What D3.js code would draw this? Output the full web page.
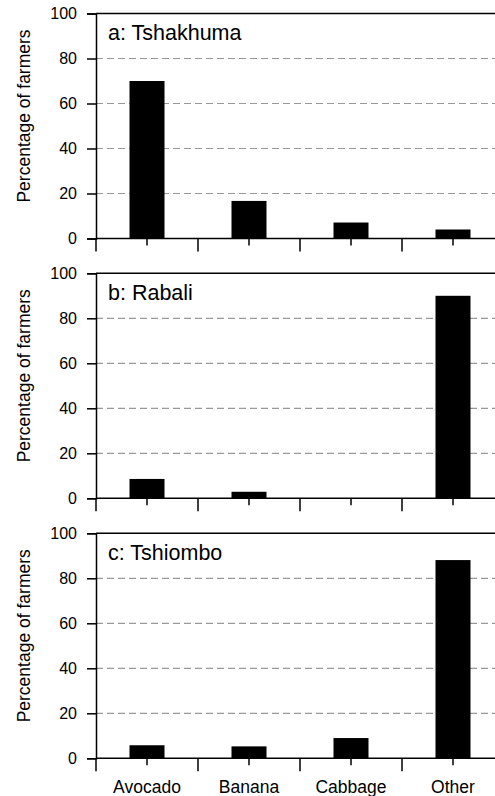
<!DOCTYPE html>
<html><head><meta charset="utf-8">
<script src="https://cdn.jsdelivr.net/npm/d3@7"></script>
<style>body{margin:0;background:#fff}svg{display:block}text{font-family:"Liberation Sans",Arial,Helvetica,sans-serif;fill:#000}</style>
</head><body>
<script>
const categories = ["Avocado", "Banana", "Cabbage", "Other"];
const panelTitles = ["a: Tshakhuma", "b: Rabali", "c: Tshiombo"];
const tshakhuma = [70, 16.7, 7.1, 4.0];
const rabali = [8.6, 2.9, 0, 90];
const tshiombo = [5.8, 5.3, 9.0, 88.1];
const yTicks = [0, 20, 40, 60, 80, 100];
const gridTicks = [20, 40, 60, 80];
const seriesList = [tshakhuma, rabali, tshiombo];

const W = 495, H = 796;
const svg = d3.select("body").append("svg").attr("width", W).attr("height", H);

const left = 96, right = 504;
const tops = [13.5, 273.3, 533.3];
const ph = 225;

const x = d3.scaleBand().domain(categories).range([left, right]).paddingInner(0).paddingOuter(0);
const barW = 35;

seriesList.forEach((vals, i) => {
  const top = tops[i], bottom = top + ph;
  const y = d3.scaleLinear().domain([0, 100]).range([bottom, top]);
  const g = svg.append("g");

  // gridlines
  g.selectAll("line.grid").data(gridTicks).join("line")
    .attr("x1", left).attr("x2", W).attr("y1", d => y(d)).attr("y2", d => y(d))
    .attr("stroke", "#999").attr("stroke-width", 1.2).attr("stroke-dasharray", "7,4");

  // bars
  g.selectAll("rect").data(categories).join("rect")
    .attr("x", d => x(d) + x.bandwidth() / 2 - barW / 2)
    .attr("width", barW)
    .attr("y", (d, j) => y(vals[j]))
    .attr("height", (d, j) => y(0) - y(vals[j]))
    .attr("fill", "#000");

  // top border
  g.append("line").attr("x1", left).attr("x2", W).attr("y1", top).attr("y2", top)
    .attr("stroke", "#000").attr("stroke-width", 1.5);

  // y axis
  const ya = d3.axisLeft(y).tickValues(yTicks).tickSize(9).tickPadding(10).tickFormat(d3.format("d"));
  const yg = g.append("g").attr("transform", `translate(${left},0)`).call(ya);
  yg.select(".domain").attr("stroke-width", 1.5);
  yg.selectAll(".tick line").attr("stroke-width", 1.5);
  yg.selectAll(".tick text").attr("font-size", 16).attr("font-family", "Liberation Sans, Arial, sans-serif");

  // x axis baseline
  g.append("line").attr("x1", left).attr("x2", W).attr("y1", y(0)).attr("y2", y(0))
    .attr("stroke", "#000").attr("stroke-width", 1.5);
  // major ticks at band boundaries
  const bounds = categories.map(c => x(c)).concat([x.range()[1]]);
  g.selectAll("line.maj").data(bounds).join("line")
    .attr("x1", d => d).attr("x2", d => d).attr("y1", y(0)).attr("y2", y(0) + 13)
    .attr("stroke", "#000").attr("stroke-width", 1.5);
  // minor ticks at band centres
  g.selectAll("line.min").data(categories).join("line")
    .attr("x1", d => x(d) + x.bandwidth() / 2).attr("x2", d => x(d) + x.bandwidth() / 2)
    .attr("y1", y(0)).attr("y2", y(0) + 7)
    .attr("stroke", "#000").attr("stroke-width", 1.5);

  // panel title
  g.append("text").attr("x", 108).attr("y", top + 26.5).attr("font-size", 21.5).text(panelTitles[i]);

  // y axis title
  g.append("text")
    .attr("transform", `translate(30,${(top + bottom) / 2 - 10}) rotate(-90)`)
    .attr("text-anchor", "middle").attr("font-size", 17.5).text("Percentage of farmers");

  if (i === seriesList.length - 1) {
    g.selectAll("text.cat").data(categories).join("text")
      .attr("x", d => x(d) + x.bandwidth() / 2).attr("y", bottom + 35)
      .attr("text-anchor", "middle").attr("font-size", 17.5).text(d => d);
  }
});
</script>
</body></html>
